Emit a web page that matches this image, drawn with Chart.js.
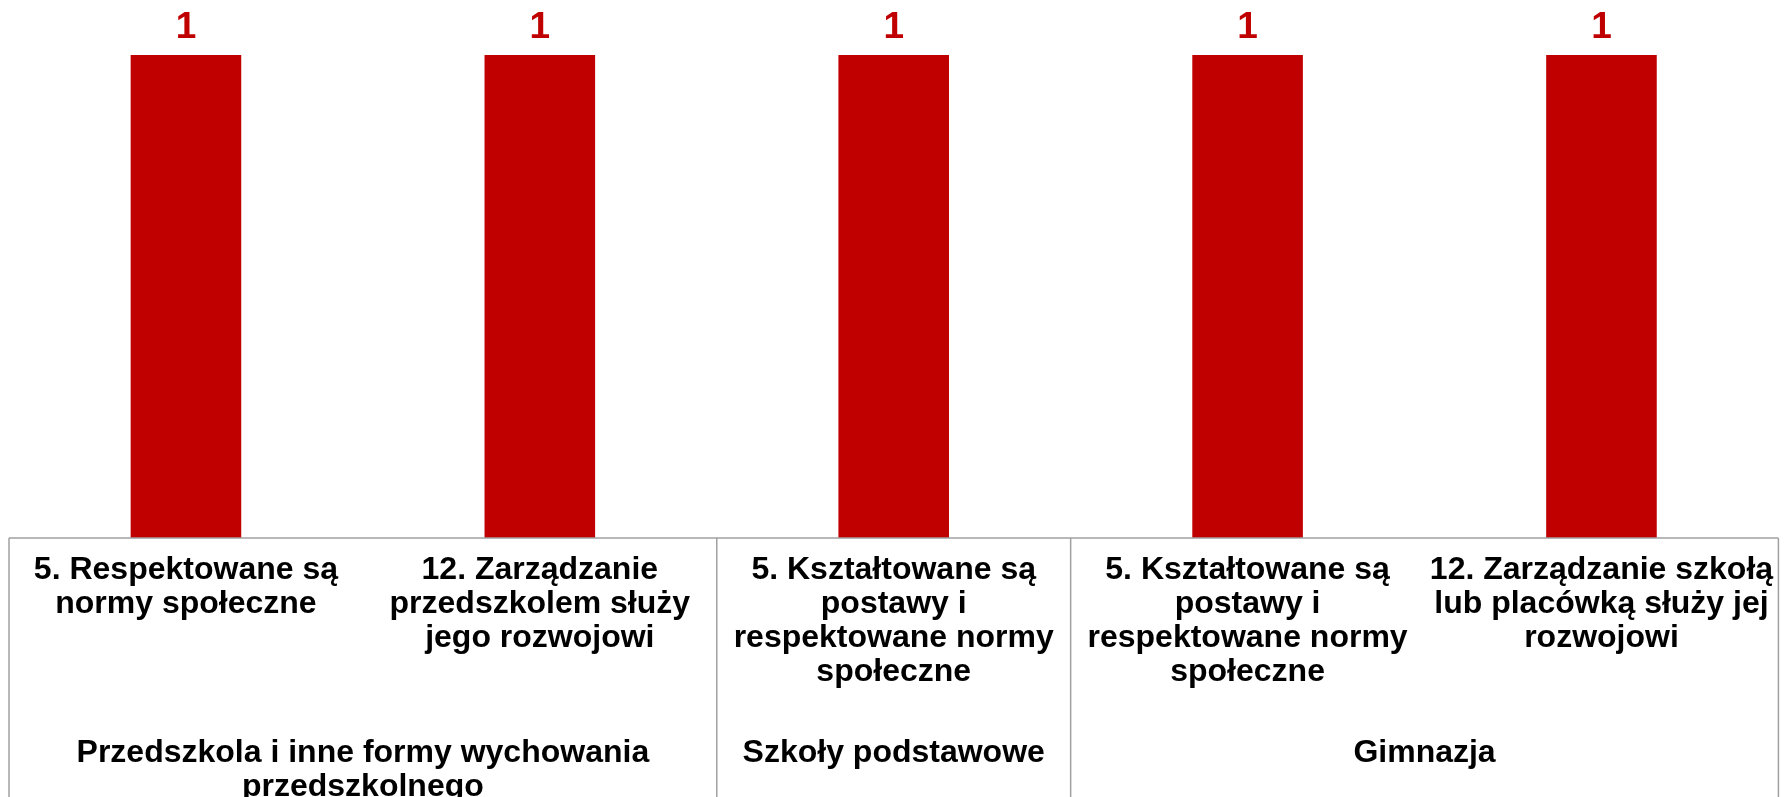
<!DOCTYPE html>
<html>
<head>
<meta charset="utf-8">
<script src="https://cdn.jsdelivr.net/npm/chart.js@4/dist/chart.umd.min.js"></script>
<style>
  html, body { margin: 0; padding: 0; background: #fff; }
  #wrap { width: 1789px; height: 797px; }
</style>
</head>
<body>
<div id="wrap"><canvas id="chart" width="1789" height="797"></canvas></div>
<script>
// data
const categories = [
  ['5. Respektowane są', 'normy społeczne'],
  ['12. Zarządzanie', 'przedszkolem służy', 'jego rozwojowi'],
  ['5. Kształtowane są', 'postawy i', 'respektowane normy', 'społeczne'],
  ['5. Kształtowane są', 'postawy i', 'respektowane normy', 'społeczne'],
  ['12. Zarządzanie szkołą', 'lub placówką służy jej', 'rozwojowi']
];
const values = [1, 1, 1, 1, 1];
const groupLabels = [
  ['Przedszkola i inne formy wychowania', 'przedszkolnego'],
  ['Szkoły podstawowe'],
  ['Gimnazja']
];
const groupSizes = [2, 1, 2];

const FONT = '"Liberation Sans", Arial, sans-serif';
const RED = '#c00000';
const LINE = '#a0a0a0';

// value labels above bars
const valueLabels = {
  id: 'valueLabels',
  afterDatasetsDraw(chart) {
    const ctx = chart.ctx;
    const meta = chart.getDatasetMeta(0);
    ctx.save();
    ctx.font = 'bold 37px ' + FONT;
    ctx.fillStyle = RED;
    ctx.textAlign = 'center';
    ctx.textBaseline = 'alphabetic';
    meta.data.forEach((bar, i) => {
      ctx.fillText(String(values[i]), bar.x, bar.y - 17);
    });
    ctx.restore();
  }
};

// table under the axis: borders + group labels
const groupTable = {
  id: 'groupTable',
  afterDraw(chart) {
    const ctx = chart.ctx;
    const x = chart.scales.x;
    const area = chart.chartArea;
    const bottom = chart.height;
    const half = (x.getPixelForValue(1) - x.getPixelForValue(0)) / 2;

    ctx.save();
    ctx.strokeStyle = LINE;
    ctx.lineWidth = 1.5;

    // top line of table
    ctx.beginPath();
    ctx.moveTo(area.left, area.bottom);
    ctx.lineTo(area.right, area.bottom);
    ctx.stroke();

    let start = 0;
    const edges = [x.getPixelForValue(0) - half];
    groupSizes.forEach(n => {
      start += n;
      edges.push(x.getPixelForValue(start - 1) + half);
    });
    edges.forEach(px => {
      ctx.beginPath();
      ctx.moveTo(px, area.bottom);
      ctx.lineTo(px, bottom);
      ctx.stroke();
    });

    ctx.font = 'bold 32px ' + FONT;
    ctx.fillStyle = '#000';
    ctx.textAlign = 'center';
    ctx.textBaseline = 'middle';
    groupLabels.forEach((lines, g) => {
      const cx = (edges[g] + edges[g + 1]) / 2;
      lines.forEach((t, k) => {
        ctx.fillText(t, cx, 753 + k * 34);
      });
    });
    ctx.restore();
  }
};

new Chart(document.getElementById('chart'), {
  type: 'bar',
  data: {
    labels: categories,
    datasets: [{
      data: values,
      backgroundColor: RED,
      borderWidth: 0,
      barPercentage: 0.3125,
      categoryPercentage: 1
    }]
  },
  options: {
    responsive: false,
    animation: false,
    layout: { padding: { left: 9, right: 9, top: 55, bottom: 0 } },
    plugins: {
      legend: { display: false },
      tooltip: { enabled: false }
    },
    scales: {
      y: { display: false, min: 0, max: 1 },
      x: {
        grid: { display: false, drawTicks: false },
        border: { display: false },
        ticks: {
          color: '#000',
          padding: 15,
          maxRotation: 0,
          autoSkip: false,
          font: { family: FONT, size: 32, weight: 'bold', lineHeight: 1.0625 }
        },
        afterFit(scale) { scale.height = 259; }
      }
    }
  },
  plugins: [valueLabels, groupTable]
});
</script>
</body>
</html>
